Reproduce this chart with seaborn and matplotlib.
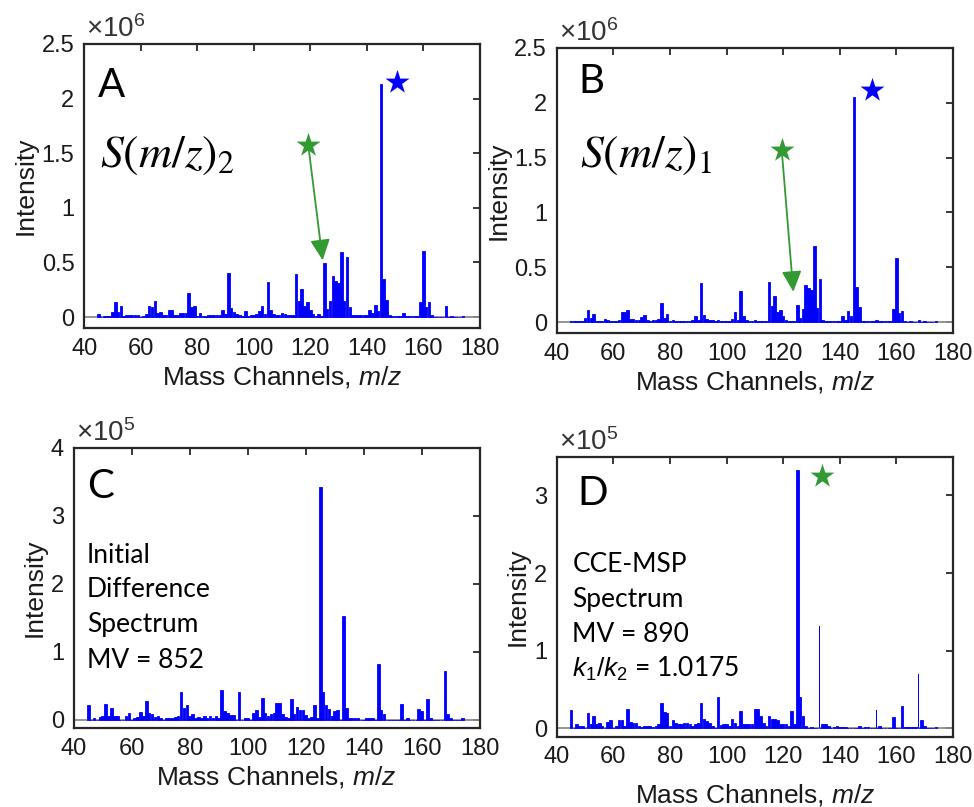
import matplotlib
matplotlib.use("Agg")
import matplotlib.pyplot as plt
import numpy as np
import pandas as pd
import seaborn as sns

# ---------------------------------------------------------------------------
# Spectra: intensity per integer mass channel, m/z 45 ... 174
# (rows of ten channels: 45-54, 55-64, ..., 165-174)
# ---------------------------------------------------------------------------
mz_channels = list(range(45, 175))

# S(m/z)_2, units of 1e3 counts
int_a_k = [
    30, 0, 8, 8, 10, 43, 137, 43, 100, 10,
    15, 15, 15, 15, 15, 0, 8, 30, 100, 92,
    146, 34, 43, 15, 20, 64, 64, 20, 15, 34,
    34, 40, 220, 88, 100, 10, 34, 10, 10, 15,
    15, 15, 15, 20, 64, 30, 406, 80, 46, 30,
    15, 10, 55, 10, 15, 20, 30, 55, 100, 30,
    323, 64, 30, 20, 15, 40, 30, 15, 15, 15,
    394, 150, 256, 103, 140, 67, 30, 10, 30, 10,
    497, 76, 147, 372, 330, 310, 595, 143, 552, 92,
    15, 15, 15, 15, 15, 15, 64, 37, 110, 55,
    2130, 345, 160, 15, 10, 10, 10, 10, 40, 10,
    10, 10, 10, 10, 137, 607, 92, 137, 15, 0,
    0, 0, 0, 103, 0, 10, 0, 0, 0, 10,
]

# S(m/z)_1, units of 1e3 counts
int_b_k = [
    8, 8, 8, 8, 10, 40, 110, 40, 76, 10,
    8, 8, 27, 15, 10, 8, 8, 20, 88, 88,
    110, 27, 27, 15, 15, 49, 64, 20, 10, 20,
    20, 30, 170, 40, 76, 10, 15, 8, 8, 8,
    8, 8, 10, 15, 55, 20, 355, 64, 30, 15,
    15, 10, 15, 10, 10, 10, 10, 27, 94, 20,
    285, 55, 15, 10, 10, 15, 10, 10, 10, 10,
    368, 143, 234, 91, 106, 52, 20, 10, 10, 5,
    152, 40, 116, 340, 313, 295, 693, 128, 390, 20,
    10, 10, 10, 8, 10, 10, 52, 20, 97, 55,
    2050, 320, 137, 8, 8, 8, 8, 8, 15, 8,
    8, 8, 8, 8, 122, 587, 85, 97, 10, 0,
    5, 0, 0, 20, 0, 5, 0, 0, 0, 8,
]

# Initial difference spectrum, units of 1e3 counts
int_c_k = [
    22, 0, 2.5, 0, 4, 5, 23.5, 5, 17.6, 6,
    6, 0, 0, 5, 10, 0, 3, 4, 12, 5,
    27, 10, 8, 4, 5, 3, 0, 3, 3, 3,
    4, 6, 41, 18, 22, 6, 8, 3, 4, 3,
    6, 3, 5, 3, 6, 3, 44.6, 13, 10, 7,
    7, 0, 40.7, 0, 3, 3, 0, 10, 14.7, 4,
    32, 10, 6, 9, 10, 25.5, 24.5, 8, 4, 3,
    31, 8, 18.6, 15, 15, 7, 3, 4, 22, 3,
    343, 40.7, 22, 16, 5, 13.7, 15, 0, 153, 17.6,
    3, 3, 2, 3, 0, 0, 3, 3, 3, 0,
    82, 15, 8, 0, 0, 0, 0, 0, 23.5, 0,
    2, 0, 0, 0, 16, 12.7, 0, 31, 3, 0,
    0, 0, 0, 72.5, 9, 3, 0, 0, 0, 2,
]

# CCE-MSP spectrum, units of 1e3 counts (broad channels)
int_d_k = [
    23, 0, 5, 3, 3, 0, 20, 5, 16, 5,
    6.5, 3, 0, 8, 10, 0, 3, 10, 10, 3,
    24.5, 8.6, 7, 7, 3, 2, 3, 3, 3, 2,
    3, 5, 33, 21, 19, 3, 10, 7, 5, 5,
    7, 7, 5, 3, 5, 7, 32, 11.6, 9, 7,
    3, 0, 39.6, 4, 5, 5, 3, 11.6, 7, 3,
    21.5, 5, 5, 5, 5, 25, 25, 16, 7, 3,
    16, 11.6, 11.6, 10, 5, 5, 5, 3, 22, 5,
    333, 39.6, 16, 3, 0, 2, 0, 0, 0, 5,
    5, 3, 0, 2, 3, 2, 2, 2, 0, 0,
    0, 0, 3, 0, 2, 2, 0, 0, 0, 3,
    0, 0, 0, 0, 14, 0, 0, 28, 2, 2,
    2, 2, 2, 0, 10, 3, 0, 0, 0, 2,
]
# CCE-MSP narrow peaks
mz_d_narrow = [133, 153, 168]
int_d_narrow_k = [132, 23, 70]

KILO = 1e3

# Axis ticks
x_ticks = [40, 60, 80, 100, 120, 140, 160, 180]
y_ticks_ab = [0, 0.5, 1, 1.5, 2, 2.5]
y_labels_ab = ["0", "0.5", "1", "1.5", "2", "2.5"]
y_ticks_c = [0, 1, 2, 3, 4]
y_labels_c = ["0", "1", "2", "3", "4"]
y_ticks_d = [0, 1, 2, 3]
y_labels_d = ["0", "1", "2", "3"]

# Marked peaks (m/z, intensity)
star_blue_a = (150.6, 2.155e6)
star_green_a = (119.3, 1.575e6)
arrow_tip_a = (124.4, 0.52e6)
star_blue_b = (151.5, 2.12e6)
star_green_b = (119.5, 1.57e6)
arrow_tip_b = (123.6, 0.276e6)
star_green_d = (133.6, 3.25e5)

# ---------------------------------------------------------------------------
sns.set_theme(style="white")
plt.rcParams.update({
    "font.family": ["Liberation Sans", "DejaVu Sans"],
    "mathtext.fontset": "custom",
    "mathtext.rm": "Liberation Sans",
    "mathtext.it": "Liberation Sans:italic",
    "mathtext.bf": "Liberation Sans:bold",
})

FRAME = "#262626"
BAR = "#0000ff"
GREEN = "#339933"
NOTE_FONT = ["Lato", "DejaVu Sans"]

fig = plt.figure(figsize=(9.74, 8.07), dpi=100)
axA = fig.add_axes([0.0864, 0.5936, 0.4062, 0.3519])
axB = fig.add_axes([0.5717, 0.5874, 0.4066, 0.3532])
axC = fig.add_axes([0.0757, 0.0979, 0.4168, 0.3470])
axD = fig.add_axes([0.5717, 0.0871, 0.4066, 0.3470])


def spectrum(ax, mz, values, width=0.9, edge=0.6):
    df = pd.DataFrame({"mz": mz, "intensity": np.asarray(values, float) * KILO})
    sns.barplot(data=df, x="mz", y="intensity", native_scale=True, color=BAR,
                saturation=1, width=width, errorbar=None, linewidth=edge,
                edgecolor=BAR, ax=ax, zorder=3)


def style(ax, yticks, ylabels, scale, ylim, exponent, xlabelpad=3):
    ax.axhline(0, color="#8c8c8c", lw=1.3, zorder=2)
    ax.set_xlim(40, 180)
    ax.set_ylim(*ylim)
    ax.set_xticks(x_ticks, labels=[str(t) for t in x_ticks])
    ax.set_yticks([t * scale for t in yticks], labels=ylabels)
    ax.tick_params(direction="in", top=True, right=True, length=5, width=1.3,
                   labelsize=17, color=FRAME, labelcolor="#1a1a1a", pad=7)
    for sp in ax.spines.values():
        sp.set_visible(True)
        sp.set_color(FRAME)
        sp.set_linewidth(1.6)
    ax.set_xlabel(r"Mass Channels, $m/z$", fontsize=19, labelpad=xlabelpad,
                  color="#1a1a1a")
    ax.set_ylabel("Intensity", fontsize=19, labelpad=3, color="#1a1a1a")
    ax.text(0.005, 1.004, rf"$\times10^{{{exponent}}}$", transform=ax.transAxes,
            fontsize=20, ha="left", va="bottom", color="#333333")
    ax.grid(False)


def star(ax, pos, color):
    sns.scatterplot(x=[pos[0]], y=[pos[1]], marker="*", s=330, color=color,
                    linewidth=0, ax=ax, zorder=5, legend=False)


def arrow(ax, start, tip):
    ax.annotate("", xy=tip, xytext=start,
                arrowprops=dict(arrowstyle="-|>,head_length=1.05,head_width=0.5",
                                color=GREEN, lw=1.3, shrinkA=0, shrinkB=0),
                zorder=4)


# Panel A
spectrum(axA, mz_channels, int_a_k)
style(axA, y_ticks_ab, y_labels_ab, 1e6, (-0.1e6, 2.5e6), 6)
arrow(axA, star_green_a, arrow_tip_a)
star(axA, star_green_a, GREEN)
star(axA, star_blue_a, BAR)
axA.text(0.035, 0.813, "A", transform=axA.transAxes, fontsize=29,
         family=NOTE_FONT, va="baseline", color="black")
axA.text(0.040, 0.567, r"$S(m/z)_2$", transform=axA.transAxes, fontsize=33,
         math_fontfamily="stix", va="baseline", color="black")

# Panel B
spectrum(axB, mz_channels, int_b_k)
style(axB, y_ticks_ab, y_labels_ab, 1e6, (-0.1e6, 2.5e6), 6)
arrow(axB, star_green_b, arrow_tip_b)
star(axB, star_green_b, GREEN)
star(axB, star_blue_b, BAR)
axB.text(0.054, 0.842, "B", transform=axB.transAxes, fontsize=29,
         family=NOTE_FONT, va="baseline", color="black")
axB.text(0.059, 0.582, r"$S(m/z)_1$", transform=axB.transAxes, fontsize=33,
         math_fontfamily="stix", va="baseline", color="black")

# Panel C
spectrum(axC, mz_channels, int_c_k)
style(axC, y_ticks_c, y_labels_c, 1e5, (-0.12e5, 4e5), 5)
axC.text(0.032, 0.821, "C", transform=axC.transAxes, fontsize=29,
         family=NOTE_FONT, va="baseline", color="black")
for line, yb in zip(["Initial", "Difference", "Spectrum", "MV = 852"],
                    [0.590, 0.468, 0.343, 0.214]):
    axC.text(0.032, yb, line, transform=axC.transAxes, fontsize=19,
             family=NOTE_FONT, va="baseline", color="black")

# Panel D
spectrum(axD, mz_channels, int_d_k)
for m, v in zip(mz_d_narrow, int_d_narrow_k):
    spectrum(axD, [m], [v], width=0.3, edge=0)
style(axD, y_ticks_d, y_labels_d, 1e5, (-0.11e5, 3.5e5), 5, xlabelpad=10)
star(axD, star_green_d, GREEN)
axD.text(0.053, 0.828, "D", transform=axD.transAxes, fontsize=29,
         family=NOTE_FONT, va="baseline", color="black")
for line, yb in zip(["CCE-MSP", "Spectrum", "MV = 890"],
                    [0.589, 0.464, 0.339]):
    axD.text(0.039, yb, line, transform=axD.transAxes, fontsize=19,
             family=NOTE_FONT, va="baseline", color="black")
axD.text(0.039, 0.214, r"$k_1/k_2$ = 1.0175", transform=axD.transAxes,
         fontsize=19, family=NOTE_FONT, va="baseline", color="black")

fig.savefig("out.png", dpi=100)
